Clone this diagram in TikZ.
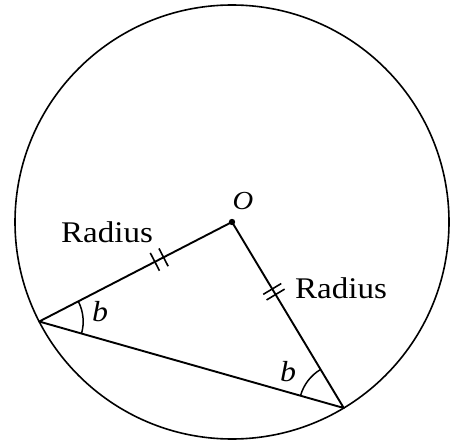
\documentclass[tikz,border=0pt]{standalone}
\usepackage{fontspec}
\setmainfont{Liberation Serif}[FakeStretch=1.1]
\usetikzlibrary{calc,angles}
\begin{document}
\begin{tikzpicture}[x=1pt,y=1pt,
  geo/.style={line width=1.9pt, line join=round},
  tickmark/.style={line width=1.6pt},
  lbl/.style={inner sep=0pt, font=\fontsize{30}{34}\selectfont},
  sym/.style={inner sep=0pt, font=\fontsize{29}{34}\selectfont\itshape}]
\useasboundingbox (0,0) rectangle (452,445);
\coordinate (O) at (232,223);
\coordinate (A) at ($(O)+(207.3:217)$);
\coordinate (B) at ($(O)+(-59:217)$);
\draw[line width=1.6pt] (O) circle[radius=217];
\draw[geo] (A) -- (O) -- (B) -- cycle;
\fill (O) circle[radius=3.2];
% equal-length tick marks
\draw[tickmark] ($(A)!0.60!(O)$) +(117.3:10) -- +(-62.7:10);
\draw[tickmark] ($(A)!0.645!(O)$) +(117.3:10) -- +(-62.7:10);
\draw[tickmark] ($(O)!0.36!(B)$) +(31:10.5) -- +(211:10.5);
\draw[tickmark] ($(O)!0.39!(B)$) +(31:10.5) -- +(211:10.5);
% angle arcs
\pic[draw, line width=1.5pt, angle radius=44] {angle = B--A--O};
\pic[draw, line width=1.5pt, angle radius=45] {angle = O--B--A};
% labels
\node[sym, font=\fontsize{26}{30}\selectfont\itshape] (lo) at (243,244) {O};
\node[sym] (lb1) at (100,133) {b};
\node[sym] (lb2) at (288,73) {b};
\node[lbl, anchor=base west] (r1) at (61,203) {Radius};
\node[lbl, anchor=base west] (r2) at (295,147) {Radius};
\end{tikzpicture}
\end{document}
